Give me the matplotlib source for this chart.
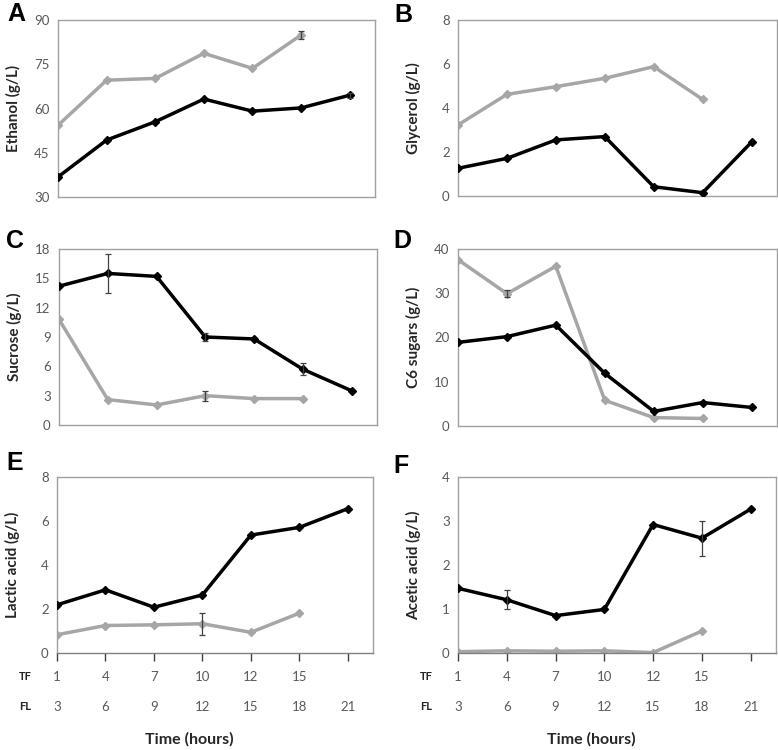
import numpy as np
from matplotlib import pyplot as plt
from matplotlib import transforms

plt.rcParams['font.family'] = ['Lato', 'DejaVu Sans']

# category positions (sampling points)
tf_labels = ["1", "4", "7", "10", "12", "15", ""]
fl_labels = ["3", "6", "9", "12", "15", "18", "21"]

# black = FL, gray = TF
ethanol_fl = [36.8, 49.3, 55.5, 63.2, 59.1, 60.2, 64.5]
ethanol_tf = [54.3, 69.6, 70.2, 78.7, 73.6, 84.9]
ethanol_fl_err = [0, 0, 0, 0, 0, 0, 0.8]
ethanol_tf_err = [0, 0, 0, 0, 0, 1.3]

glycerol_fl = [1.26, 1.71, 2.55, 2.70, 0.42, 0.15, 2.45]
glycerol_tf = [3.23, 4.62, 4.97, 5.35, 5.88, 4.39]
glycerol_fl_err = [0, 0, 0, 0, 0, 0, 0]
glycerol_tf_err = [0, 0, 0, 0, 0, 0]

sucrose_fl = [14.2, 15.5, 15.2, 9.0, 8.8, 5.7, 3.5]
sucrose_tf = [10.8, 2.6, 2.05, 3.0, 2.7, 2.7]
sucrose_fl_err = [0, 2.0, 0, 0.4, 0, 0.6, 0]
sucrose_tf_err = [0, 0, 0, 0.5, 0, 0]

c6_fl = [18.9, 20.2, 22.8, 11.9, 3.3, 5.3, 4.2]
c6_tf = [37.6, 29.9, 36.1, 5.8, 1.9, 1.7]
c6_fl_err = [0, 0, 0, 0, 0, 0, 0]
c6_tf_err = [0, 0.8, 0, 0, 0, 0]

lactic_fl = [2.19, 2.87, 2.08, 2.64, 5.36, 5.71, 6.56]
lactic_tf = [0.83, 1.25, 1.28, 1.33, 0.94, 1.81]
lactic_fl_err = [0, 0, 0, 0, 0, 0, 0]
lactic_tf_err = [0, 0, 0, 0.5, 0, 0]

acetic_fl = [1.47, 1.21, 0.85, 0.99, 2.92, 2.61, 3.27]
acetic_tf = [0.03, 0.05, 0.04, 0.05, 0.01, 0.50]
acetic_fl_err = [0, 0.22, 0, 0, 0, 0.4, 0]
acetic_tf_err = [0, 0, 0, 0, 0, 0]

panels = [
    ("A", "Ethanol (g/L)", (30, 90), [30, 45, 60, 75, 90], ethanol_fl, ethanol_tf, ethanol_fl_err, ethanol_tf_err),
    ("B", "Glycerol (g/L)", (0, 8), [0, 2, 4, 6, 8], glycerol_fl, glycerol_tf, glycerol_fl_err, glycerol_tf_err),
    ("C", "Sucrose (g/L)", (0, 18), [0, 3, 6, 9, 12, 15, 18], sucrose_fl, sucrose_tf, sucrose_fl_err, sucrose_tf_err),
    ("D", "C6 sugars (g/L)", (0, 40), [0, 10, 20, 30, 40], c6_fl, c6_tf, c6_fl_err, c6_tf_err),
    ("E", "Lactic acid (g/L)", (0, 8), [0, 2, 4, 6, 8], lactic_fl, lactic_tf, lactic_fl_err, lactic_tf_err),
    ("F", "Acetic acid (g/L)", (0, 4), [0, 1, 2, 3, 4], acetic_fl, acetic_tf, acetic_fl_err, acetic_tf_err),
]

# axes boxes in pixels: left, top, right, bottom
boxes = [(58, 20, 375, 197), (458, 20, 777, 196),
         (59, 249, 377, 425), (458, 249, 777, 426),
         (57, 477, 373, 653), (458, 477, 776, 653)]
# panel letter centres in pixels
letter_pos = [(16, 14), (403, 15), (15, 241), (402, 241), (15, 463), (401, 466)]

W, H = 778, 750
fig = plt.figure(figsize=(W / 100, H / 100), dpi=100)

GRAY = "#a6a6a6"
FRAME = "#a0a0a0"
TXT = "#595959"

for i, (letter, ylab, ylim, yticks, fl, tf, fl_err, tf_err) in enumerate(panels):
    l, t, r, b = boxes[i]
    ax = fig.add_axes([l / W, 1 - b / H, (r - l) / W, (b - t) / H])
    x_fl = np.arange(len(fl))
    x_tf = np.arange(len(tf))

    ax.errorbar(x_tf, tf, yerr=[e if e > 0 else np.nan for e in tf_err], fmt="none",
                ecolor="#404040", elinewidth=0.9, capsize=2.5, capthick=0.9, zorder=4)
    ax.errorbar(x_fl, fl, yerr=[e if e > 0 else np.nan for e in fl_err], fmt="none",
                ecolor="#404040", elinewidth=0.9, capsize=2.5, capthick=0.9, zorder=4)
    ax.plot(x_tf, tf, color=GRAY, lw=2.5, marker="D", ms=4, zorder=2)
    ax.plot(x_fl, fl, color="black", lw=2.5, marker="D", ms=4, zorder=3)

    ax.set_xlim(0, 6.52)
    ax.set_ylim(*ylim)
    ax.set_yticks(yticks)
    ax.tick_params(axis="y", length=0, labelsize=9.5, labelcolor=TXT, pad=6)
    for s in ax.spines.values():
        s.set_color(FRAME)
        s.set_linewidth(1.0)

    ax.set_ylabel(ylab, fontsize=11, fontweight="bold", color="#262626")
    ax.yaxis.set_label_coords(-37 / (r - l), 0.5)

    lx, ly = letter_pos[i]
    fig.text(lx / W, 1 - ly / H, letter, fontsize=18, fontweight="bold",
             family="Liberation Sans", va="center", ha="center")

    if i >= 4:
        ax.set_xticks(np.arange(7))
        ax.set_xticklabels([])
        ax.tick_params(axis="x", direction="out", length=6, width=1, color="#404040")
        ax.spines["bottom"].set_color("#808080")
        trans = transforms.blended_transform_factory(ax.transData, ax.transAxes)
        for k in range(7):
            ax.text(k, -0.135, tf_labels[k], transform=trans, ha="center", va="center",
                    fontsize=9.5, color=TXT)
            ax.text(k, -0.305, fl_labels[k], transform=trans, ha="center", va="center",
                    fontsize=9.5, color=TXT)
        ax.text(-32 / (r - l), -0.135, "TF", transform=ax.transAxes, ha="center",
                va="center", fontsize=8, fontweight="bold", color="#262626")
        ax.text(-32 / (r - l), -0.305, "FL", transform=ax.transAxes, ha="center",
                va="center", fontsize=8, fontweight="bold", color="#262626")
        ax.text(0.42, -0.49, "Time (hours)", transform=ax.transAxes, ha="center",
                va="center", fontsize=11.5, fontweight="bold", color="#262626")
    else:
        ax.set_xticks([])

plt.savefig("out.png", dpi=100)
